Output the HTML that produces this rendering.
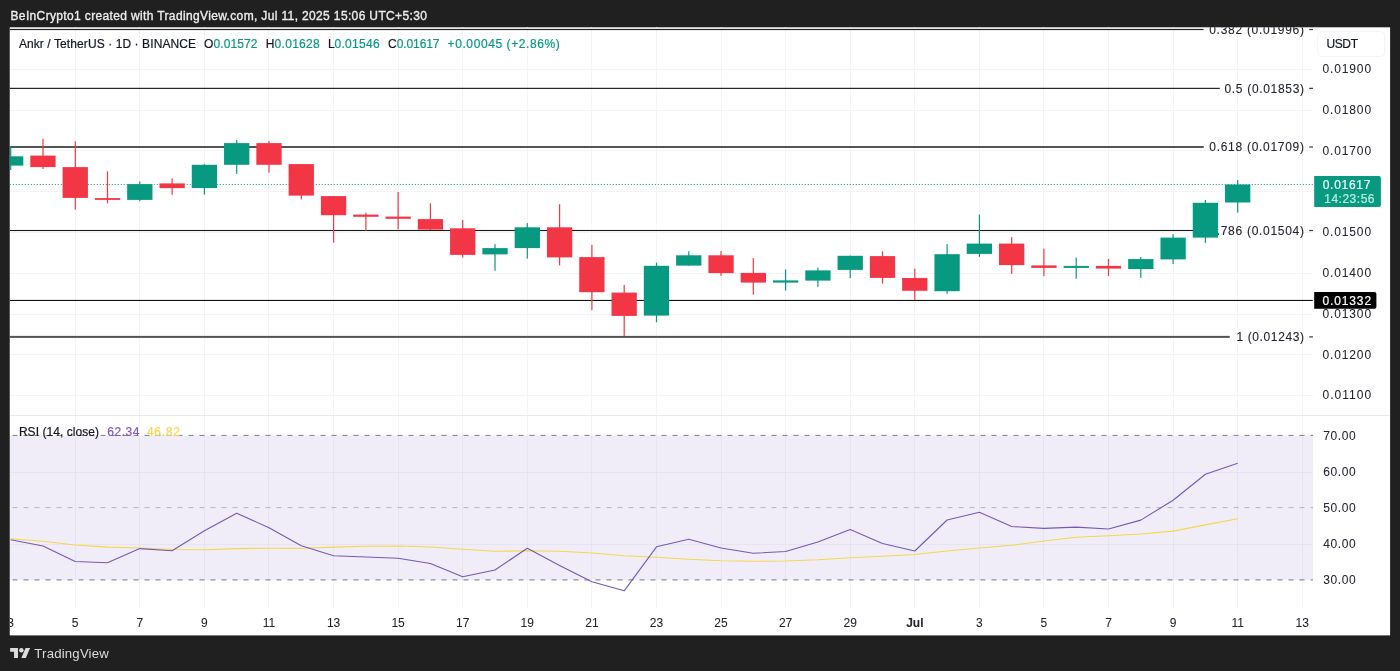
<!DOCTYPE html>
<html lang="en"><head><meta charset="utf-8"><title>ANKRUSDT chart</title>
<style>
html,body{margin:0;padding:0;background:#202020;}
body{width:1400px;height:671px;overflow:hidden;}
svg{display:block;}
text{font-family:"Liberation Sans",Arial,sans-serif;font-size:12px;}
</style></head><body>
<svg width="1400" height="671" viewBox="0 0 1400 671">
<rect width="1400" height="671" fill="#202020"/>
<rect x="9.75" y="27.3" width="1380.35" height="608.1" fill="#ffffff"/>
<defs><clipPath id="pane"><rect x="9.75" y="27.3" width="1380.35" height="608.1"/></clipPath></defs>
<g clip-path="url(#pane)">
<g stroke="#f4f4f7" stroke-width="1" shape-rendering="crispEdges">
<line x1="75.5" y1="27.3" x2="75.5" y2="607.5"/>
<line x1="139.5" y1="27.3" x2="139.5" y2="607.5"/>
<line x1="204.5" y1="27.3" x2="204.5" y2="607.5"/>
<line x1="268.5" y1="27.3" x2="268.5" y2="607.5"/>
<line x1="333.5" y1="27.3" x2="333.5" y2="607.5"/>
<line x1="398.5" y1="27.3" x2="398.5" y2="607.5"/>
<line x1="462.5" y1="27.3" x2="462.5" y2="607.5"/>
<line x1="527.5" y1="27.3" x2="527.5" y2="607.5"/>
<line x1="591.5" y1="27.3" x2="591.5" y2="607.5"/>
<line x1="656.5" y1="27.3" x2="656.5" y2="607.5"/>
<line x1="721.5" y1="27.3" x2="721.5" y2="607.5"/>
<line x1="785.5" y1="27.3" x2="785.5" y2="607.5"/>
<line x1="850.5" y1="27.3" x2="850.5" y2="607.5"/>
<line x1="914.5" y1="27.3" x2="914.5" y2="607.5"/>
<line x1="979.5" y1="27.3" x2="979.5" y2="607.5"/>
<line x1="1043.5" y1="27.3" x2="1043.5" y2="607.5"/>
<line x1="1108.5" y1="27.3" x2="1108.5" y2="607.5"/>
<line x1="1173.5" y1="27.3" x2="1173.5" y2="607.5"/>
<line x1="1237.5" y1="27.3" x2="1237.5" y2="607.5"/>
<line x1="1302.5" y1="27.3" x2="1302.5" y2="607.5"/>
<line x1="9.75" y1="69.5" x2="1313" y2="69.5"/>
<line x1="9.75" y1="110.5" x2="1313" y2="110.5"/>
<line x1="9.75" y1="150.5" x2="1313" y2="150.5"/>
<line x1="9.75" y1="191.5" x2="1313" y2="191.5"/>
<line x1="9.75" y1="232.5" x2="1313" y2="232.5"/>
<line x1="9.75" y1="273.5" x2="1313" y2="273.5"/>
<line x1="9.75" y1="314.5" x2="1313" y2="314.5"/>
<line x1="9.75" y1="354.5" x2="1313" y2="354.5"/>
<line x1="9.75" y1="395.5" x2="1313" y2="395.5"/>
<line x1="9.75" y1="472.5" x2="1313" y2="472.5"/>
<line x1="9.75" y1="544.5" x2="1313" y2="544.5"/>
</g>
<rect x="9.75" y="415.0" width="1380.35" height="1" fill="#e9eaee"/>
<rect x="9.75" y="435.4" width="1303.25" height="144.4" fill="#7e57c2" fill-opacity="0.11"/>
<line x1="1.5" y1="435.4" x2="1313" y2="435.4" stroke="#7c7f8a" stroke-width="1" stroke-dasharray="5 6"/>
<line x1="1.5" y1="507.6" x2="1313" y2="507.6" stroke="#b4b6be" stroke-width="1" stroke-dasharray="5 6"/>
<line x1="1.5" y1="579.8" x2="1313" y2="579.8" stroke="#8d909a" stroke-width="1.2" stroke-dasharray="5 6"/>
<rect x="9.75" y="28.90" width="1193.8" height="1.2" fill="#222222"/>
<text x="1209.2" y="33.9" fill="#22252f" stroke="#22252f" stroke-width="0.1" textLength="94.8" lengthAdjust="spacing">0.382 (0.01996)</text>
<rect x="1309.2" y="28.90" width="3.8" height="1.2" fill="#3a3a3a"/>
<rect x="9.75" y="87.80" width="1210.0" height="1.1" fill="#111111"/>
<text x="1224.5" y="92.8" fill="#22252f" stroke="#22252f" stroke-width="0.1" textLength="79.5" lengthAdjust="spacing">0.5 (0.01853)</text>
<rect x="1309.2" y="87.75" width="3.8" height="1.2" fill="#3a3a3a"/>
<rect x="9.75" y="146.00" width="1194.0" height="2.0" fill="#555555"/>
<text x="1209.3" y="151.4" fill="#22252f" stroke="#22252f" stroke-width="0.1" textLength="94.7" lengthAdjust="spacing">0.618 (0.01709)</text>
<rect x="1309.2" y="146.40" width="3.8" height="1.2" fill="#3a3a3a"/>
<rect x="9.75" y="229.95" width="1194.0" height="1.1" fill="#1a1a1a"/>
<text x="1209.3" y="234.9" fill="#22252f" stroke="#22252f" stroke-width="0.1" textLength="94.7" lengthAdjust="spacing">0.786 (0.01504)</text>
<rect x="1309.2" y="229.90" width="3.8" height="1.2" fill="#3a3a3a"/>
<rect x="9.75" y="335.90" width="1220.0" height="2.0" fill="#555555"/>
<text x="1236.5" y="341.3" fill="#22252f" stroke="#22252f" stroke-width="0.1" textLength="67.5" lengthAdjust="spacing">1 (0.01243)</text>
<rect x="1309.2" y="336.30" width="3.8" height="1.2" fill="#3a3a3a"/>
<rect x="9.75" y="299.9" width="1303.05" height="1.1" fill="#111111"/>
<line x1="9.75" y1="184.5" x2="1313" y2="184.5" stroke="#089981" stroke-width="1" stroke-dasharray="1 2"/>
<g>
<rect x="10.1" y="146.0" width="1.2" height="24.0" fill="#089981"/>
<rect x="-1.98" y="156.3" width="25.3" height="9.3" fill="#089981"/>
<rect x="42.4" y="138.8" width="1.2" height="30.1" fill="#f23645"/>
<rect x="30.31" y="155.6" width="25.3" height="11.5" fill="#f23645"/>
<rect x="74.7" y="141.3" width="1.2" height="68.4" fill="#f23645"/>
<rect x="62.60" y="167.1" width="25.3" height="30.8" fill="#f23645"/>
<rect x="106.9" y="171.4" width="1.2" height="32.0" fill="#f23645"/>
<rect x="94.89" y="198.1" width="25.3" height="1.8" fill="#f23645"/>
<rect x="139.2" y="181.4" width="1.2" height="19.8" fill="#089981"/>
<rect x="127.18" y="184.1" width="25.3" height="15.8" fill="#089981"/>
<rect x="171.5" y="178.4" width="1.2" height="16.5" fill="#f23645"/>
<rect x="159.47" y="183.4" width="25.3" height="4.7" fill="#f23645"/>
<rect x="203.8" y="164.3" width="1.2" height="30.3" fill="#089981"/>
<rect x="191.76" y="164.8" width="25.3" height="23.3" fill="#089981"/>
<rect x="236.1" y="140.0" width="1.2" height="33.9" fill="#089981"/>
<rect x="224.05" y="143.1" width="25.3" height="21.7" fill="#089981"/>
<rect x="268.4" y="141.0" width="1.2" height="31.6" fill="#f23645"/>
<rect x="256.34" y="143.1" width="25.3" height="21.7" fill="#f23645"/>
<rect x="300.7" y="164.1" width="1.2" height="35.3" fill="#f23645"/>
<rect x="288.63" y="164.1" width="25.3" height="31.5" fill="#f23645"/>
<rect x="333.0" y="196.1" width="1.2" height="46.6" fill="#f23645"/>
<rect x="320.92" y="196.1" width="25.3" height="19.1" fill="#f23645"/>
<rect x="365.3" y="212.6" width="1.2" height="18.2" fill="#f23645"/>
<rect x="353.21" y="214.6" width="25.3" height="2.2" fill="#f23645"/>
<rect x="397.5" y="192.0" width="1.2" height="37.3" fill="#f23645"/>
<rect x="385.50" y="216.6" width="25.3" height="2.2" fill="#f23645"/>
<rect x="429.8" y="203.3" width="1.2" height="26.7" fill="#f23645"/>
<rect x="417.79" y="219.1" width="25.3" height="10.5" fill="#f23645"/>
<rect x="462.1" y="220.1" width="1.2" height="37.5" fill="#f23645"/>
<rect x="450.08" y="228.3" width="25.3" height="26.6" fill="#f23645"/>
<rect x="494.4" y="244.1" width="1.2" height="26.6" fill="#089981"/>
<rect x="482.37" y="248.1" width="25.3" height="6.3" fill="#089981"/>
<rect x="526.7" y="223.1" width="1.2" height="35.5" fill="#089981"/>
<rect x="514.66" y="227.3" width="25.3" height="20.8" fill="#089981"/>
<rect x="559.0" y="204.3" width="1.2" height="61.1" fill="#f23645"/>
<rect x="546.95" y="227.3" width="25.3" height="30.1" fill="#f23645"/>
<rect x="591.3" y="244.9" width="1.2" height="65.3" fill="#f23645"/>
<rect x="579.24" y="257.1" width="25.3" height="35.1" fill="#f23645"/>
<rect x="623.6" y="285.0" width="1.2" height="51.0" fill="#f23645"/>
<rect x="611.53" y="292.6" width="25.3" height="23.3" fill="#f23645"/>
<rect x="655.9" y="262.6" width="1.2" height="59.7" fill="#089981"/>
<rect x="643.82" y="265.8" width="25.3" height="49.8" fill="#089981"/>
<rect x="688.2" y="251.3" width="1.2" height="14.3" fill="#089981"/>
<rect x="676.11" y="255.3" width="25.3" height="10.3" fill="#089981"/>
<rect x="720.4" y="251.1" width="1.2" height="24.8" fill="#f23645"/>
<rect x="708.40" y="255.3" width="25.3" height="17.8" fill="#f23645"/>
<rect x="752.7" y="258.1" width="1.2" height="36.5" fill="#f23645"/>
<rect x="740.69" y="272.9" width="25.3" height="9.7" fill="#f23645"/>
<rect x="785.0" y="269.4" width="1.2" height="21.2" fill="#089981"/>
<rect x="772.98" y="280.4" width="25.3" height="2.2" fill="#089981"/>
<rect x="817.3" y="267.6" width="1.2" height="19.3" fill="#089981"/>
<rect x="805.27" y="270.4" width="25.3" height="10.2" fill="#089981"/>
<rect x="849.6" y="255.6" width="1.2" height="22.5" fill="#089981"/>
<rect x="837.56" y="255.8" width="25.3" height="14.1" fill="#089981"/>
<rect x="881.9" y="251.3" width="1.2" height="32.3" fill="#f23645"/>
<rect x="869.85" y="256.1" width="25.3" height="21.8" fill="#f23645"/>
<rect x="914.2" y="268.6" width="1.2" height="31.6" fill="#f23645"/>
<rect x="902.14" y="278.0" width="25.3" height="12.8" fill="#f23645"/>
<rect x="946.5" y="244.1" width="1.2" height="49.7" fill="#089981"/>
<rect x="934.43" y="254.2" width="25.3" height="37.0" fill="#089981"/>
<rect x="978.8" y="214.6" width="1.2" height="42.3" fill="#089981"/>
<rect x="966.72" y="243.6" width="25.3" height="10.3" fill="#089981"/>
<rect x="1011.1" y="237.1" width="1.2" height="36.8" fill="#f23645"/>
<rect x="999.01" y="243.6" width="25.3" height="21.5" fill="#f23645"/>
<rect x="1043.3" y="248.6" width="1.2" height="27.6" fill="#f23645"/>
<rect x="1031.30" y="265.4" width="25.3" height="2.5" fill="#f23645"/>
<rect x="1075.6" y="257.6" width="1.2" height="21.1" fill="#089981"/>
<rect x="1063.59" y="265.9" width="25.3" height="2.0" fill="#089981"/>
<rect x="1107.9" y="258.9" width="1.2" height="17.0" fill="#f23645"/>
<rect x="1095.88" y="265.9" width="25.3" height="2.7" fill="#f23645"/>
<rect x="1140.2" y="256.9" width="1.2" height="21.0" fill="#089981"/>
<rect x="1128.17" y="259.1" width="25.3" height="10.0" fill="#089981"/>
<rect x="1172.5" y="234.1" width="1.2" height="30.0" fill="#089981"/>
<rect x="1160.46" y="237.6" width="25.3" height="21.8" fill="#089981"/>
<rect x="1204.8" y="200.0" width="1.2" height="42.9" fill="#089981"/>
<rect x="1192.75" y="202.8" width="25.3" height="34.8" fill="#089981"/>
<rect x="1237.1" y="180.0" width="1.2" height="32.6" fill="#089981"/>
<rect x="1225.04" y="184.5" width="25.3" height="18.0" fill="#089981"/>
</g>
<polyline points="10.7,538.8 43.0,541.2 75.2,545.0 107.5,547.1 139.8,548.0 172.1,549.5 204.4,549.8 236.7,548.6 269.0,548.3 301.3,548.3 333.6,547.1 365.9,546.3 398.1,546.0 430.4,547.0 462.7,549.3 495.0,551.3 527.3,550.8 559.6,551.3 591.9,553.0 624.2,555.8 656.5,557.2 688.8,559.3 721.0,560.8 753.3,561.3 785.6,561.0 817.9,559.8 850.2,557.8 882.5,556.3 914.8,554.5 947.1,551.0 979.4,548.0 1011.7,545.3 1043.9,541.0 1076.2,537.3 1108.5,535.7 1140.8,534.0 1173.1,531.1 1205.4,524.9 1237.7,518.8" fill="none" stroke="#f5d848" stroke-width="1.15" stroke-linejoin="round"/>
<polyline points="10.7,539.7 43.0,546.0 75.2,561.5 107.5,562.7 139.8,548.6 172.1,550.7 204.4,530.8 236.7,513.2 269.0,527.8 301.3,545.7 333.6,555.8 365.9,557.0 398.1,558.3 430.4,563.5 462.7,576.8 495.0,570.0 527.3,548.3 559.6,565.5 591.9,581.8 624.2,590.8 656.5,546.8 688.8,539.3 721.0,548.0 753.3,553.3 785.6,551.5 817.9,542.0 850.2,529.5 882.5,543.5 914.8,551.0 947.1,520.0 979.4,512.3 1011.7,526.5 1043.9,528.4 1076.2,527.1 1108.5,529.0 1140.8,520.1 1173.1,500.3 1205.4,474.2 1237.7,463.3" fill="none" stroke="#7659b4" stroke-width="1.1" stroke-linejoin="round"/>
<text x="18.9" y="47.5" fill="#131722" stroke="#131722" stroke-width="0.2" textLength="177.1" lengthAdjust="spacing">Ankr / TetherUS · 1D · BINANCE</text>
<text x="204.0" y="47.5" fill="#131722" stroke="#131722" stroke-width="0.2">O</text>
<text x="213.6" y="47.5" fill="#089981" stroke="#089981" stroke-width="0.2" textLength="43.9" lengthAdjust="spacing">0.01572</text>
<text x="265.7" y="47.5" fill="#131722" stroke="#131722" stroke-width="0.2">H</text>
<text x="274.6" y="47.5" fill="#089981" stroke="#089981" stroke-width="0.2" textLength="45.1" lengthAdjust="spacing">0.01628</text>
<text x="328.1" y="47.5" fill="#131722" stroke="#131722" stroke-width="0.2">L</text>
<text x="334.4" y="47.5" fill="#089981" stroke="#089981" stroke-width="0.2" textLength="45.3" lengthAdjust="spacing">0.01546</text>
<text x="388.1" y="47.5" fill="#131722" stroke="#131722" stroke-width="0.2">C</text>
<text x="396.8" y="47.5" fill="#089981" stroke="#089981" stroke-width="0.2" textLength="42.6" lengthAdjust="spacing">0.01617</text>
<text x="447.6" y="47.5" fill="#089981" stroke="#089981" stroke-width="0.2" textLength="112.1" lengthAdjust="spacing">+0.00045 (+2.86%)</text>
<text x="18.9" y="436.2" fill="#131722" stroke="#131722" stroke-width="0.2" textLength="80.1" lengthAdjust="spacing">RSI (14, close)</text>
<text x="107.3" y="436.2" fill="#7e57c2" stroke="#7e57c2" stroke-width="0.2" textLength="32.2" lengthAdjust="spacing">62.34</text>
<text x="146.9" y="436.2" fill="#f5d848" stroke="#f5d848" stroke-width="0.2" textLength="33.0" lengthAdjust="spacing">46.82</text>
<rect x="1317.5" y="31.5" width="67" height="25" rx="4" fill="#ffffff" stroke="#f4f5f8" stroke-width="1"/>
<text x="1326.4" y="48.3" fill="#131722" stroke="#131722" stroke-width="0.2" textLength="31.6" lengthAdjust="spacing">USDT</text>
<text x="1322.5" y="73.1" fill="#22252f" stroke="#22252f" stroke-width="0.05" textLength="48.6" lengthAdjust="spacing">0.01900</text>
<text x="1322.5" y="113.8" fill="#22252f" stroke="#22252f" stroke-width="0.05" textLength="48.6" lengthAdjust="spacing">0.01800</text>
<text x="1322.5" y="154.6" fill="#22252f" stroke="#22252f" stroke-width="0.05" textLength="48.6" lengthAdjust="spacing">0.01700</text>
<text x="1322.5" y="236.2" fill="#22252f" stroke="#22252f" stroke-width="0.05" textLength="48.6" lengthAdjust="spacing">0.01500</text>
<text x="1322.5" y="277.0" fill="#22252f" stroke="#22252f" stroke-width="0.05" textLength="48.6" lengthAdjust="spacing">0.01400</text>
<text x="1322.5" y="317.8" fill="#22252f" stroke="#22252f" stroke-width="0.05" textLength="48.6" lengthAdjust="spacing">0.01300</text>
<text x="1322.5" y="358.6" fill="#22252f" stroke="#22252f" stroke-width="0.05" textLength="48.6" lengthAdjust="spacing">0.01200</text>
<text x="1322.5" y="399.4" fill="#22252f" stroke="#22252f" stroke-width="0.05" textLength="48.6" lengthAdjust="spacing">0.01100</text>
<path d="M1314.2 176h64.7a2 2 0 0 1 2 2v26.9a2 2 0 0 1 -2 2h-64.7z" fill="#089981"/>
<text x="1322.7" y="188.5" fill="#f2fffb" stroke="#f2fffb" stroke-width="0.2" textLength="47.7" lengthAdjust="spacing">0.01617</text>
<text x="1324.2" y="202.6" fill="#b9efe3" stroke="#b9efe3" stroke-width="0.2" textLength="50.3" lengthAdjust="spacing">14:23:56</text>
<path d="M1314.2 291.9h60.2a2 2 0 0 1 2 2v12.8a2 2 0 0 1 -2 2h-60.2z" fill="#000000"/>
<text x="1322.5" y="304.6" fill="#ffffff" stroke="#ffffff" stroke-width="0.2" textLength="48.6" lengthAdjust="spacing">0.01332</text>
<text x="1323.2" y="439.6" fill="#22252f" stroke="#22252f" stroke-width="0.05" textLength="32.6" lengthAdjust="spacing">70.00</text>
<text x="1323.2" y="475.7" fill="#22252f" stroke="#22252f" stroke-width="0.05" textLength="32.6" lengthAdjust="spacing">60.00</text>
<text x="1323.2" y="511.8" fill="#22252f" stroke="#22252f" stroke-width="0.05" textLength="32.6" lengthAdjust="spacing">50.00</text>
<text x="1323.2" y="547.9" fill="#22252f" stroke="#22252f" stroke-width="0.05" textLength="32.6" lengthAdjust="spacing">40.00</text>
<text x="1323.2" y="584.0" fill="#22252f" stroke="#22252f" stroke-width="0.05" textLength="32.6" lengthAdjust="spacing">30.00</text>
<text x="10.7" y="627.0" fill="#22252f" stroke="#22252f" stroke-width="0.05" text-anchor="middle">3</text>
<text x="75.2" y="627.0" fill="#22252f" stroke="#22252f" stroke-width="0.05" text-anchor="middle">5</text>
<text x="139.8" y="627.0" fill="#22252f" stroke="#22252f" stroke-width="0.05" text-anchor="middle">7</text>
<text x="204.4" y="627.0" fill="#22252f" stroke="#22252f" stroke-width="0.05" text-anchor="middle">9</text>
<text x="269.0" y="627.0" fill="#22252f" stroke="#22252f" stroke-width="0.05" text-anchor="middle">11</text>
<text x="333.6" y="627.0" fill="#22252f" stroke="#22252f" stroke-width="0.05" text-anchor="middle">13</text>
<text x="398.1" y="627.0" fill="#22252f" stroke="#22252f" stroke-width="0.05" text-anchor="middle">15</text>
<text x="462.7" y="627.0" fill="#22252f" stroke="#22252f" stroke-width="0.05" text-anchor="middle">17</text>
<text x="527.3" y="627.0" fill="#22252f" stroke="#22252f" stroke-width="0.05" text-anchor="middle">19</text>
<text x="591.9" y="627.0" fill="#22252f" stroke="#22252f" stroke-width="0.05" text-anchor="middle">21</text>
<text x="656.5" y="627.0" fill="#22252f" stroke="#22252f" stroke-width="0.05" text-anchor="middle">23</text>
<text x="721.0" y="627.0" fill="#22252f" stroke="#22252f" stroke-width="0.05" text-anchor="middle">25</text>
<text x="785.6" y="627.0" fill="#22252f" stroke="#22252f" stroke-width="0.05" text-anchor="middle">27</text>
<text x="850.2" y="627.0" fill="#22252f" stroke="#22252f" stroke-width="0.05" text-anchor="middle">29</text>
<text x="914.8" y="627.0" fill="#22252f" stroke="#22252f" stroke-width="0.05" text-anchor="middle" font-weight="bold">Jul</text>
<text x="979.4" y="627.0" fill="#22252f" stroke="#22252f" stroke-width="0.05" text-anchor="middle">3</text>
<text x="1043.9" y="627.0" fill="#22252f" stroke="#22252f" stroke-width="0.05" text-anchor="middle">5</text>
<text x="1108.5" y="627.0" fill="#22252f" stroke="#22252f" stroke-width="0.05" text-anchor="middle">7</text>
<text x="1173.1" y="627.0" fill="#22252f" stroke="#22252f" stroke-width="0.05" text-anchor="middle">9</text>
<text x="1237.7" y="627.0" fill="#22252f" stroke="#22252f" stroke-width="0.05" text-anchor="middle">11</text>
<text x="1302.3" y="627.0" fill="#22252f" stroke="#22252f" stroke-width="0.05" text-anchor="middle">13</text>
</g>
<text x="10.5" y="20.1" fill="#ececec" stroke="#ececec" stroke-width="0.35" textLength="416.4" lengthAdjust="spacing">BeInCrypto1 created with TradingView.com, Jul 11, 2025 15:06 UTC+5:30</text>
<g transform="translate(10.1 645.65) scale(0.563)" fill="#dcdcdc"><path d="M14 22H7V11H0V4h14v18ZM28 22h-8l7.5-18h8L28 22Z"/><circle cx="20" cy="8" r="4"/></g>
<text x="34.3" y="658.1" fill="#dcdcdc" style="font-size:13.2px" textLength="74.5" lengthAdjust="spacing">TradingView</text>
</svg></body></html>
